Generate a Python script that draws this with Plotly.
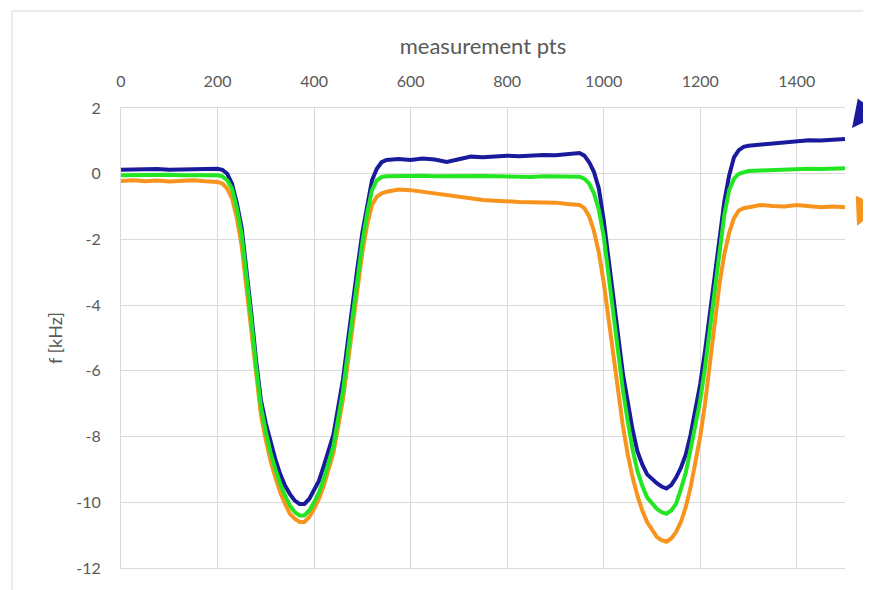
import plotly.graph_objs as go

# measurement points (x) and the three frequency traces in kHz
PTS = [0, 25, 50, 75, 100, 125, 150, 175, 200,
       210, 220, 230, 240, 250, 260, 270, 280, 290, 300, 310, 320, 330, 340, 350, 360, 370, 380, 390, 400,
       410, 420, 430, 440, 450, 460, 470, 480, 490, 500, 510, 520, 530, 540, 550,
       575, 600, 625, 650, 675, 700, 725, 750, 775, 800, 825, 850, 875, 900, 925, 950,
       960, 970, 980, 990, 1000, 1010, 1020, 1030, 1040, 1050, 1060, 1070, 1080, 1090, 1100,
       1110, 1120, 1130, 1140, 1150, 1160, 1170, 1180, 1190, 1200, 1210, 1220, 1230, 1240, 1250,
       1260, 1270, 1280, 1290, 1300,
       1325, 1350, 1375, 1400, 1425, 1450, 1475, 1500]

BLUE = [0.12, 0.13, 0.12, 0.14, 0.12, 0.13, 0.15, 0.16, 0.15,
        0.12, 0.0, -0.3, -0.9, -1.65, -2.9, -4.25, -5.7, -6.9, -7.6, -8.2, -8.7, -9.15, -9.5, -9.75, -9.95, -10.05, -10.05, -9.9, -9.65,
        -9.35, -8.9, -8.45, -7.95, -7.1, -6.25, -5.1, -3.9, -2.85, -1.8, -0.95, -0.2, 0.15, 0.35, 0.42,
        0.45, 0.42, 0.46, 0.43, 0.36, 0.44, 0.52, 0.5, 0.54, 0.55, 0.53, 0.56, 0.57, 0.56, 0.6, 0.63,
        0.55, 0.35, 0.05, -0.45, -1.4, -2.6, -3.9, -5.05, -6.1, -6.95, -7.8, -8.45, -8.85, -9.15, -9.3,
        -9.42, -9.52, -9.58, -9.48, -9.25, -8.95, -8.55, -7.95, -7.2, -6.4, -5.4, -4.3, -3.1, -1.95, -0.85,
        -0.05, 0.5, 0.72, 0.82, 0.85,
        0.88, 0.92, 0.97, 1.0, 1.02, 1.01, 1.05, 1.06]

GREEN = [-0.05, -0.04, -0.06, -0.05, -0.03, -0.05, -0.04, -0.05, -0.05,
         -0.08, -0.2, -0.45, -1.05, -1.85, -3.1, -4.45, -5.9, -7.1, -7.85, -8.5, -9.0, -9.45, -9.8, -10.1, -10.3, -10.4, -10.4, -10.25, -10.0,
         -9.7, -9.3, -8.8, -8.3, -7.45, -6.6, -5.45, -4.25, -3.15, -2.1, -1.2, -0.5, -0.2, -0.1, -0.08,
         -0.07, -0.08, -0.06, -0.08, -0.07, -0.09, -0.08, -0.07, -0.08, -0.09, -0.08, -0.1, -0.08, -0.09, -0.08, -0.09,
         -0.15, -0.3, -0.6, -1.1, -1.9, -3.05, -4.35, -5.5, -6.6, -7.55, -8.4, -9.05, -9.5, -9.85, -10.05,
         -10.2, -10.3, -10.35, -10.25, -10.05, -9.6, -9.1, -8.4, -7.65, -6.9, -5.9, -4.75, -3.5, -2.25, -1.25,
         -0.5, -0.15, 0.0, 0.05, 0.08,
         0.1, 0.12, 0.13, 0.14, 0.15, 0.14, 0.16, 0.17]

ORANGE = [-0.22, -0.2, -0.23, -0.21, -0.24, -0.22, -0.2, -0.23, -0.25,
          -0.3, -0.45, -0.75, -1.35, -2.2, -3.45, -4.8, -6.2, -7.35, -8.1, -8.75, -9.25, -9.7, -10.05, -10.35, -10.5, -10.6, -10.6, -10.45, -10.2,
          -9.9, -9.5, -9.0, -8.5, -7.7, -6.85, -5.75, -4.55, -3.45, -2.4, -1.55, -0.95, -0.7, -0.6, -0.55,
          -0.48, -0.5, -0.55, -0.58, -0.62, -0.68, -0.75, -0.8, -0.82, -0.85, -0.86, -0.87, -0.86, -0.88, -0.92, -0.95,
          -1.05, -1.3, -1.75, -2.4, -3.3, -4.4, -5.6, -6.7, -7.7, -8.55, -9.25, -9.8, -10.25, -10.6, -10.85,
          -11.05, -11.15, -11.2, -11.1, -10.9, -10.6, -10.15, -9.55, -8.8, -8.0, -7.0, -5.8, -4.55, -3.35, -2.45,
          -1.8, -1.35, -1.12, -1.05, -1.02,
          -0.95, -0.98, -1.0, -0.95, -1.0, -1.02, -1.0, -1.02]

X_TICKS = [0, 200, 400, 600, 800, 1000, 1200, 1400]
Y_TICKS = [2, 0, -2, -4, -6, -8, -10, -12]
Y_LABELS = ['2', '0', '-2', '-4', '-6', '-8', '-10', '-12']

GRID = '#d9d9d9'
TXT = '#595959'
FONT = 'Lato'


def make_chart():
    fig = go.Figure()
    # draw order: orange, blue, then green on top
    series = [(ORANGE, '#f7941d'), (BLUE, '#1a1a9c'), (GREEN, '#22e622')]
    for vals, color in series:
        fig.add_trace(go.Scatter(x=PTS, y=vals, mode='lines',
                                 line={'color': color, 'width': 4},
                                 showlegend=False))

    # page body adds an 8px offset, margins compensate for it
    layout = go.Layout(
        width=871, height=590, autosize=False,
        margin={'l': 113, 'r': 34, 't': 100, 'b': 30},
        paper_bgcolor='white', plot_bgcolor='white',
        font={'family': FONT, 'color': TXT, 'size': 16},
        xaxis={'side': 'top', 'range': [0, 1500], 'tickvals': X_TICKS,
               'showgrid': True, 'gridcolor': GRID, 'zeroline': False,
               'showline': True, 'mirror': True, 'linecolor': GRID,
               'ticks': '', 'ticklabelstandoff': 14,
               'tickfont': {'size': 16, 'color': TXT},
               'title': {'text': 'measurement pts', 'standoff': 9,
                         'font': {'size': 22, 'color': TXT}}},
        yaxis={'range': [-12, 2], 'tickvals': Y_TICKS, 'ticktext': Y_LABELS,
               'showgrid': True, 'gridcolor': GRID, 'zeroline': False,
               'showline': True, 'linecolor': GRID,
               'ticks': '', 'ticklabelstandoff': 16,
               'tickfont': {'size': 16, 'color': TXT},
               'title': {'text': 'f [kHz]', 'standoff': 8,
                         'font': {'size': 18, 'color': TXT}}},
    )
    fig.update_layout(layout)

    # outer chart frame (left and top edges visible)
    fig.add_shape(type='line', xref='paper', yref='paper',
                  x0=-0.1506, x1=-0.1506, y0=-0.07, y1=1.2109,
                  line={'color': GRID, 'width': 1})
    fig.add_shape(type='line', xref='paper', yref='paper',
                  x0=-0.1506, x1=1.06, y0=1.2109, y1=1.2109,
                  line={'color': GRID, 'width': 1})

    # arrows pointing in from the right edge
    fig.add_annotation(xref='paper', yref='paper', x=1.0097, y=0.9565,
                       text='', showarrow=True, arrowhead=2, arrowsize=1.8,
                       arrowwidth=3, arrowcolor='#1a1a9c', ax=40, ay=-35)
    fig.add_annotation(xref='paper', yref='paper', x=1.0166, y=0.7435,
                       text='', showarrow=True, arrowhead=2, arrowsize=1.8,
                       arrowwidth=3, arrowcolor='#f7941d', ax=18, ay=-40)

    fig.write_html('out.html')


make_chart()
